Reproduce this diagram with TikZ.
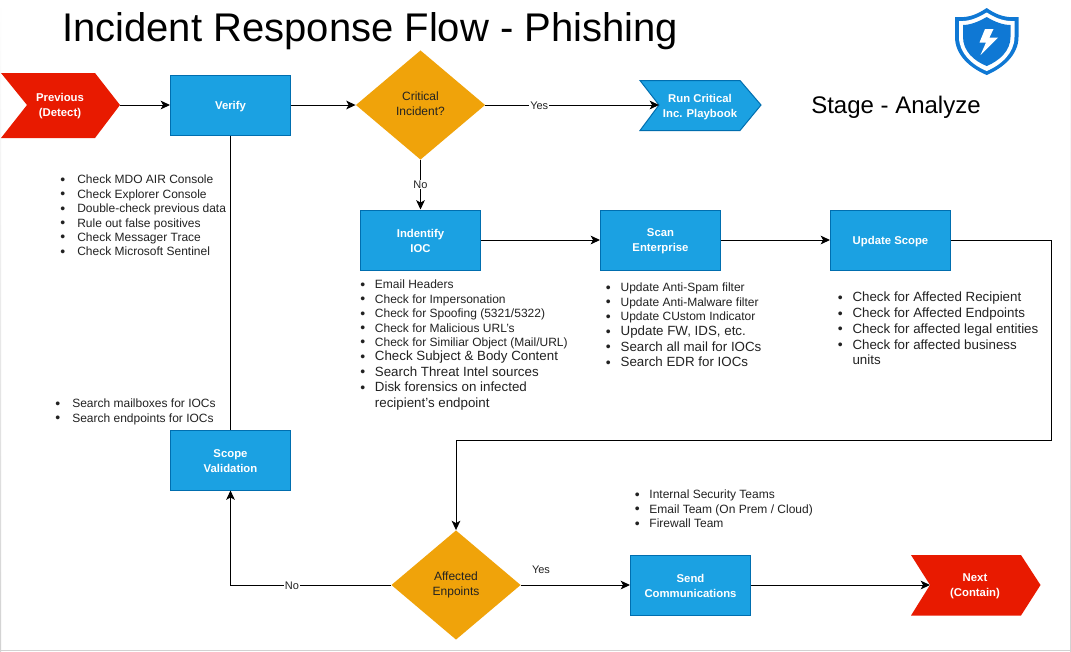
\documentclass[tikz,border=0pt]{standalone}
\usepackage{fontspec}
\setmainfont{Liberation Sans}
\usetikzlibrary{arrows.meta,shapes.geometric}
\newcommand{\bul}{\raisebox{-0.3pt}{\fontsize{10.5}{10.5}\selectfont\textbullet}}
\newcommand{\li}[1]{\fontsize{9}{10.8}\selectfont\makebox[11pt][l]{\bul}#1}
\newcommand{\liw}[1]{\fontsize{9}{10.8}\selectfont\makebox[12.75pt][l]{\bul}#1}
\newcommand{\lib}[1]{\fontsize{10}{11.6}\selectfont\makebox[11pt][l]{\bul}#1}
\newcommand{\linb}[1]{\fontsize{10}{11.6}\selectfont\makebox[11pt][l]{}#1}
\newcommand{\mv}{\rule{0pt}{8pt}}
\definecolor{bluef}{HTML}{1BA1E2}
\definecolor{blued}{HTML}{006EAF}
\definecolor{redf}{HTML}{E81A00}
\definecolor{orangef}{HTML}{F0A30A}
\definecolor{shield}{HTML}{0F78D4}
\definecolor{txt}{HTML}{222222}
\definecolor{edgegray}{HTML}{D2D2D2}
\tikzset{
  x=0.75pt,y=-0.75pt,
  every node/.style={font=\fontsize{9}{10.8}\selectfont,text=txt},
  procbox/.style={rectangle,draw=blued,fill=bluef,line width=0.75pt,minimum width=90pt,minimum height=45pt,inner sep=0pt,align=center,text=white,font=\fontsize{8.5}{11.2}\selectfont\bfseries},
  decision/.style={diamond,fill=orangef,aspect=1.18,inner sep=0pt,minimum width=97pt,minimum height=82pt,align=center,font=\fontsize{9}{11.2}\selectfont},
  tagbox/.style={rectangle,inner sep=0pt,align=center,text=white,font=\fontsize{8.5}{11.2}\selectfont\bfseries},
  notes/.style={anchor=north west,inner sep=0pt,align=left},
  link/.style={draw=black,line width=0.75pt,-{Stealth[length=7pt,width=6.5pt,inset=1.8pt]}},
  plain/.style={draw=black,line width=0.75pt},
  edgetag/.style={fill=white,inner sep=0.6pt,font=\fontsize{8.25}{10}\selectfont},
}
\begin{document}
\begin{tikzpicture}
\useasboundingbox (0,0) rectangle (1071,651);
\fill[white] (0,0) rectangle (1071,651);
% faint screenshot edge
\fill[top color=white,bottom color=edgegray] (0,0) rectangle (1,651);
\fill[top color=white,bottom color=edgegray] (1070,0) rectangle (1071,651);
\fill[edgegray] (0,650) rectangle (1071,651);

% title and stage
\node[anchor=base west,inner sep=0pt,font=\fontsize{30}{36}\selectfont,text=black] (title) at (62,41) {Incident Response Flow - Phishing};
\node[anchor=base west,inner sep=0pt,font=\fontsize{18}{22}\selectfont,text=black] (stage) at (811,113) {Stage - Analyze};

% shield
\fill[shield] (986.7,8) .. controls (975,16) and (966,18) .. (955,17) -- (955,37) .. controls (955,55) and (970,68) .. (986.7,75) .. controls (1003,68) and (1018.5,55) .. (1018.5,37) -- (1018.5,17) .. controls (1007,18) and (998,16) .. (986.7,8) -- cycle;
\fill[white] (986.7,12.5) .. controls (976,19) and (968,21.5) .. (959,21) -- (959,37) .. controls (959,53) and (972,65) .. (986.7,71) .. controls (1001,65) and (1014.5,53) .. (1014.5,37) -- (1014.5,21) .. controls (1005,21.5) and (997,19) .. (986.7,12.5) -- cycle;
\fill[shield] (986.7,17) .. controls (978,22) and (970,25) .. (963,25) -- (963,37) .. controls (963,51) and (974,61) .. (986.7,66) .. controls (999,61) and (1010.5,51) .. (1010.5,37) -- (1010.5,25) .. controls (1003,25) and (995,22) .. (986.7,17) -- cycle;
\fill[white] (985,29) -- (993.5,29) -- (989.5,37.5) -- (998,37.5) -- (980.5,55) -- (986,42.5) -- (979.5,42.5) -- cycle;

% tag shapes
\fill[redf] (1,73) -- (95,73) -- (120,105) -- (95,138) -- (1,138) -- (27,105) -- cycle;
\node[tagbox,minimum width=90pt,minimum height=48.75pt] (prev) at (60,105) {\mv Previous\\(Detect)};
\fill[redf] (911,555) -- (1021,555) -- (1040.5,585) -- (1021,615.5) -- (911,615.5) -- (930,585) -- cycle;
\node[tagbox,minimum width=90pt,minimum height=45pt] (next) at (975,585) {\mv Next\\(Contain)};
\fill[bluef,draw=blued,line width=0.75pt] (640,80.5) -- (740,80.5) -- (761,105) -- (740,130.5) -- (640,130.5) -- (659,105) -- cycle;
\node[tagbox,minimum width=90pt,minimum height=37.5pt] (run) at (700,105.75) {\mv Run Critical\\Inc. Playbook};

% process boxes
\node[procbox] (verify) at (230.5,105) {\mv Verify};
\node[procbox] (ioc) at (420.5,240) {\mv Indentify\\IOC};
\node[procbox] (scan) at (660.5,240) {\mv Scan\\Enterprise};
\node[procbox] (update) at (890.5,240) {\mv Update Scope};
\node[procbox] (scope) at (230.5,460) {\mv Scope\\Validation};
\node[procbox] (send) at (690.5,585) {\mv Send\\Communications};

% decisions
\node[decision] (crit) at (420.5,105) {Critical\\Incident?\rule[-2pt]{0pt}{0pt}};
\node[decision] (aff) at (456,585) {Affected\\Enpoints};

% connector ends and bend points
\coordinate (runin) at (659,105);
\coordinate (nextin) at (930,585);
\coordinate (c1) at (1051,240);
\coordinate (c2) at (1051,440);
\coordinate (c3) at (456,440);
\coordinate (c4) at (230.5,585);

% connectors
\draw[link] (prev.east) -- (verify.west);
\draw[link] (verify.east) -- (crit.west);
\draw[link] (crit.east) -- node[edgetag,pos=0.31,yshift=-0.75pt] (yes1) {Yes} (runin);
\draw[link] (crit.south) -- node[edgetag,pos=0.5] (no1) {No} (ioc.north);
\draw[link] (ioc.east) -- (scan.west);
\draw[link] (scan.east) -- (update.west);
\draw[link] (update.east) -- (c1) -- (c2) -- (c3) -- (aff.north);
\draw[plain] (verify.south) -- (scope.north);
\draw[link] (aff.west) -- (c4) -- (scope.south);
\node[edgetag] (no2) at (292,585.75) {No};
\draw[link] (aff.east) -- (send.west);
\node[edgetag,fill=none] (yes2) at (541,570) {Yes};
\draw[link] (send.east) -- (nextin);

% note lists
\node[notes] (n1) at (60,175) {\liw{Check MDO AIR Console}\\\liw{Check Explorer Console}\\\liw{Double-check previous data}\\\liw{Rule out false positives}\\\liw{Check Messager Trace}\\\liw{Check Microsoft Sentinel}};
\node[notes] (n2) at (55,399) {\liw{Search mailboxes for IOCs}\\\liw{Search endpoints for IOCs}};
\node[notes] (n3) at (360,280) {\li{Email Headers}\\\li{Check for Impersonation}\\\li{Check for Spoofing (5321/5322)}\\\li{Check for Malicious URL's}\\\li{Check for Similiar Object (Mail/URL)}\\\lib{Check Subject \& Body Content}\\[0.8pt]\lib{Search Threat Intel sources}\\[0.8pt]\lib{Disk forensics on infected}\\[0.6pt]\linb{recipient's endpoint}};
\node[notes] (n4) at (605.7,283) {\li{Update Anti-Spam filter}\\\li{Update Anti-Malware filter}\\\li{Update CUstom Indicator}\\[0.4pt]\lib{Update FW, IDS, etc.}\\[0.9pt]\lib{Search all mail for IOCs}\\[0.9pt]\lib{Search EDR for IOCs}};
\node[notes] (n5) at (837.6,292) {\lib{Check for Affected Recipient}\\[1pt]\lib{Check for Affected Endpoints}\\[1pt]\lib{Check for affected legal entities}\\[1pt]\lib{Check for affected business}\\[1pt]\linb{units}};
\node[notes] (n6) at (634.5,490) {\li{Internal Security Teams}\\\li{Email Team (On Prem / Cloud)}\\\li{Firewall Team}};
\end{tikzpicture}
\end{document}
